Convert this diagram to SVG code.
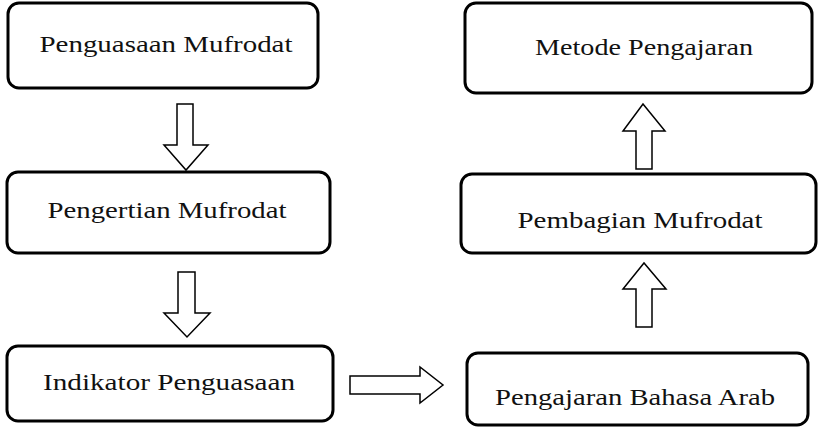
<svg xmlns="http://www.w3.org/2000/svg" width="819" height="429" viewBox="0 0 819 429">
<style>
.box{fill:#fff;stroke:#000;stroke-width:3}
.lbl{font-family:'Liberation Serif',serif;font-size:23px;font-weight:normal;fill:#111;text-anchor:middle}
.arr{fill:#fff;stroke:#000;stroke-width:1.5;stroke-linejoin:miter}
</style>
<rect width="819" height="429" fill="#fff"/>
<g id="n1"><rect class="box" x="8" y="3" width="310" height="85" rx="11"/><text class="lbl" x="166" y="52" textLength="253" lengthAdjust="spacingAndGlyphs">Penguasaan Mufrodat</text></g>
<g id="n2"><rect class="box" x="7" y="172" width="323" height="81" rx="11"/><text class="lbl" x="167" y="218" textLength="239" lengthAdjust="spacingAndGlyphs">Pengertian Mufrodat</text></g>
<g id="n3"><rect class="box" x="7" y="346" width="326" height="75" rx="11"/><text class="lbl" x="169" y="390" textLength="252" lengthAdjust="spacingAndGlyphs">Indikator Penguasaan</text></g>
<g id="n4"><rect class="box" x="467" y="353" width="341" height="72" rx="11"/><text class="lbl" x="635" y="405" textLength="280" lengthAdjust="spacingAndGlyphs">Pengajaran Bahasa Arab</text></g>
<g id="n5"><rect class="box" x="461" y="174" width="355" height="79" rx="11"/><text class="lbl" x="640" y="228" textLength="245" lengthAdjust="spacingAndGlyphs">Pembagian Mufrodat</text></g>
<g id="n6"><rect class="box" x="465" y="3" width="347" height="90" rx="11"/><text class="lbl" x="644" y="55" textLength="218" lengthAdjust="spacingAndGlyphs">Metode Pengajaran</text></g>
<g id="connectors">
<polygon class="arr" points="177,104 193,104 193,145 208,145 186,170 164,145 177,145"/>
<polygon class="arr" points="178,272 195,272 195,313 210,313 187,337 164,313 178,313"/>
<polygon class="arr" points="350,376 420,376 420,367 443,385 420,403 420,394 350,394"/>
<polygon class="arr" points="636,327 652,327 652,289 666,289 644,263 623,289 636,289"/>
<polygon class="arr" points="636,169 652,169 652,131 665,131 643,104 623,131 636,131"/>
</g>
</svg>
